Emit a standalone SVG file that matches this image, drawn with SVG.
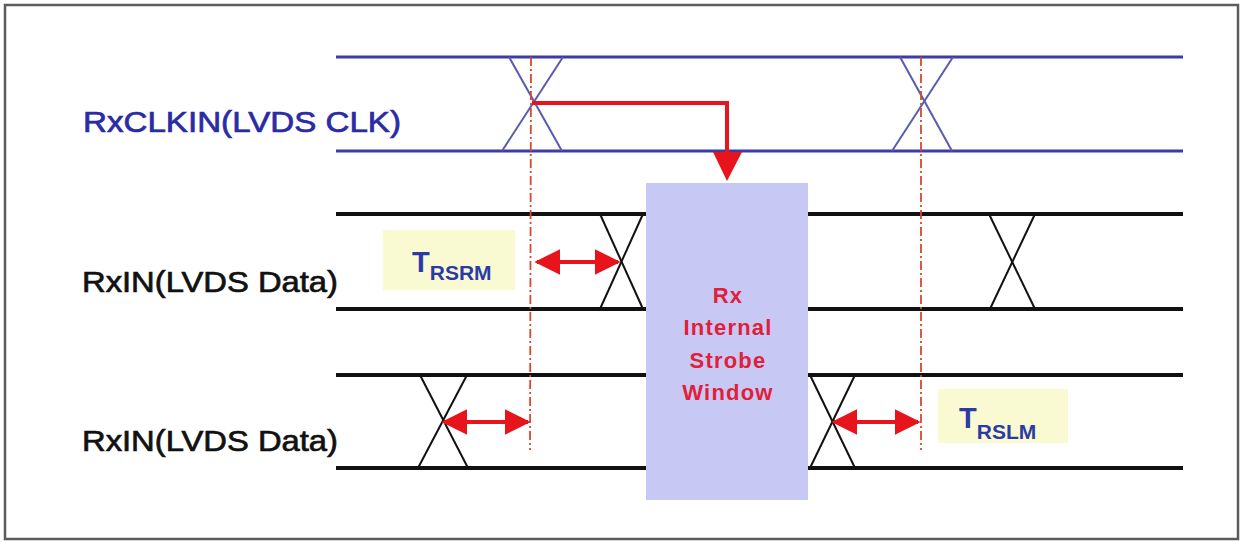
<svg xmlns="http://www.w3.org/2000/svg" width="1242" height="542" viewBox="0 0 1242 542">
<style>
.clk{stroke:#3b3bab;stroke-width:3;fill:none}
.clkx{stroke:#5a5ab0;stroke-width:2;fill:none}
.dat{stroke:#111;stroke-width:4;fill:none}
.datx{stroke:#111;stroke-width:2;fill:none}
.vref{stroke:#d8482a;stroke-width:1.8;stroke-dasharray:9 3 2 3;fill:none}
.red{stroke:#e8141c;stroke-width:4;fill:none}
.lbl{font-family:"Liberation Sans",Arial,sans-serif;font-size:29px;stroke-width:0.7}
.tb{font-family:"Liberation Sans",Arial,sans-serif;font-weight:bold;fill:#2b3aa6}
.win{font-family:"Liberation Sans",Arial,sans-serif;font-weight:bold;font-size:22px;letter-spacing:1.2px;fill:#e0203a;text-anchor:middle}
</style>
<defs>
<marker id="ah" viewBox="0 0 10 10" refX="9" refY="5" markerWidth="6.5" markerHeight="6.5" markerUnits="strokeWidth" orient="auto-start-reverse">
<path d="M0,0 L10,5 L0,10 z" fill="#e8141c"/>
</marker>
</defs>
<rect x="0" y="0" width="1242" height="542" fill="#fff"/>
<rect x="5" y="5" width="1233" height="534" fill="none" stroke="#5c5c5c" stroke-width="2.5"/>

<g id="clock">
<line class="clk" x1="336" y1="57" x2="1183" y2="57"/>
<line class="clk" x1="336" y1="151" x2="1183" y2="151"/>
<line class="clkx" x1="509" y1="57" x2="562" y2="151" stroke="#8080b8"/>
<line class="clkx" x1="563" y1="57" x2="502" y2="151"/>
<line class="clkx" x1="900" y1="57" x2="952" y2="151" stroke="#8080b8"/>
<line class="clkx" x1="953" y1="57" x2="892" y2="151"/>
<text class="lbl" x="83" y="132" fill="#2b2ba6" stroke="#2b2ba6" textLength="318" lengthAdjust="spacingAndGlyphs">RxCLKIN(LVDS CLK)</text>
</g>

<g id="data1">
<line class="dat" x1="336" y1="214" x2="1183" y2="214"/>
<line class="dat" x1="336" y1="309" x2="1183" y2="309"/>
<line class="datx" x1="600" y1="214" x2="643" y2="309"/>
<line class="datx" x1="643" y1="214" x2="600" y2="309"/>
<line class="datx" x1="989" y1="214" x2="1035" y2="309"/>
<line class="datx" x1="1035" y1="214" x2="990" y2="309"/>
<text class="lbl" x="82" y="292" fill="#111" stroke="#111" textLength="256" lengthAdjust="spacingAndGlyphs">RxIN(LVDS Data)</text>
</g>

<g id="data2">
<line class="dat" x1="336" y1="375" x2="1183" y2="375"/>
<line class="dat" x1="336" y1="468" x2="1183" y2="468"/>
<line class="datx" x1="420" y1="375" x2="468" y2="468"/>
<line class="datx" x1="467" y1="375" x2="418" y2="468"/>
<line class="datx" x1="810" y1="375" x2="855" y2="468"/>
<line class="datx" x1="855" y1="375" x2="810" y2="468"/>
<text class="lbl" x="82" y="451" fill="#111" stroke="#111" textLength="256" lengthAdjust="spacingAndGlyphs">RxIN(LVDS Data)</text>
</g>

<g id="strobe">
<rect x="646" y="183" width="162" height="317" fill="#c8c8f5"/>
<text class="win" x="728" y="303">Rx</text>
<text class="win" x="728" y="335">Internal</text>
<text class="win" x="728" y="368">Strobe</text>
<text class="win" x="728" y="400">Window</text>
</g>

<g id="trsrm">
<rect x="383" y="230" width="132" height="60" fill="#fafad2"/>
<text class="tb" x="412" y="272" font-size="29">T<tspan font-size="21" y="280">RSRM</tspan></text>
</g>

<g id="trslm">
<rect x="938" y="389" width="130" height="54" fill="#fafad2"/>
<text class="tb" x="959" y="428" font-size="29">T<tspan font-size="21" y="439">RSLM</tspan></text>
</g>

<g id="connectors">
<line class="vref" x1="531" y1="57" x2="530" y2="450"/>
<line class="vref" x1="921" y1="57" x2="921" y2="450"/>
<polyline class="red" points="532,103 727,103 727,154" stroke-width="5"/>
<path d="M713,152 L742,152 L727,181 z" fill="#e8141c"/>
<line class="red" x1="537" y1="262" x2="618" y2="262" marker-start="url(#ah)" marker-end="url(#ah)"/>
<line class="red" x1="444" y1="422" x2="528" y2="422" marker-start="url(#ah)" marker-end="url(#ah)"/>
<line class="red" x1="834" y1="422" x2="918" y2="422" marker-start="url(#ah)" marker-end="url(#ah)"/>
</g>
</svg>
